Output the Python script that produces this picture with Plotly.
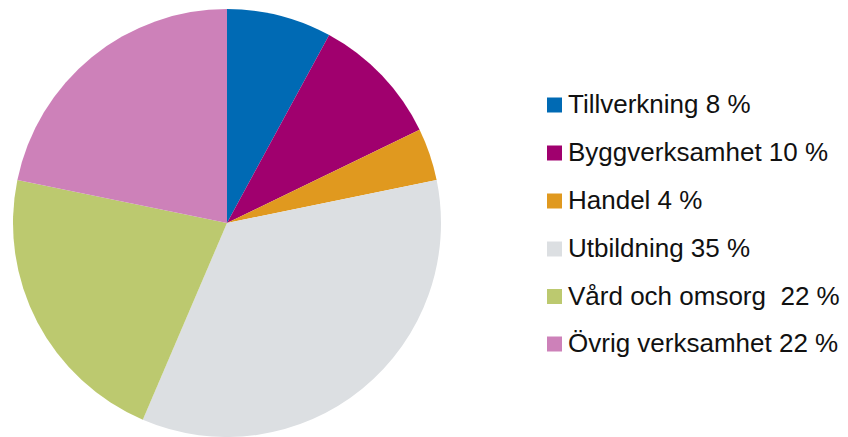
import plotly.graph_objects as go

categories = ["Tillverkning", "Byggverksamhet", "Handel", "Utbildning", "Vård och omsorg", "Övrig verksamhet"]
values = [8, 10, 4, 35, 22, 22]
legend_labels = ["Tillverkning 8 %", "Byggverksamhet 10 %", "Handel 4 %", "Utbildning 35 %",
                 "Vård och omsorg  22 %", "Övrig verksamhet 22 %"]
colors = ["#006AB4", "#A0006E", "#E0991F", "#DCDFE2", "#BCC96F", "#CD81B9"]

W, H = 848, 437

fig = go.Figure(go.Pie(
    labels=categories,
    values=values,
    sort=False,
    direction="clockwise",
    rotation=0,
    textinfo="none",
    marker=dict(colors=colors, line=dict(width=0)),
    showlegend=False,
    domain=dict(x=[13 / W, 441 / W], y=[0, 1 - 9 / H]),
))

# manual legend (fixed row spacing like the reference)
row_y = [105, 153, 201, 249, 296.5, 344]
shapes = []
annotations = []
for lab, col, yc in zip(legend_labels, colors, row_y):
    shapes.append(dict(type="rect", xref="paper", yref="paper",
                       x0=547 / W, x1=562 / W, y0=1 - (yc + 7.5) / H, y1=1 - (yc - 7.5) / H,
                       fillcolor=col, line=dict(width=0)))
    annotations.append(dict(text=lab, xref="paper", yref="paper", x=566 / W, y=1 - (yc - 1) / H,
                            xanchor="left", yanchor="middle", showarrow=False,
                            font=dict(family="Liberation Sans", size=26, color="#111111")))

fig.update_layout(
    width=W, height=H,
    margin=dict(l=0, r=0, t=0, b=0),
    paper_bgcolor="white", plot_bgcolor="white",
    shapes=shapes, annotations=annotations,
)

fig.write_html("out.html", config={"displayModeBar": False},
               post_script="document.body.style.margin='0';document.body.style.overflow='hidden';")
